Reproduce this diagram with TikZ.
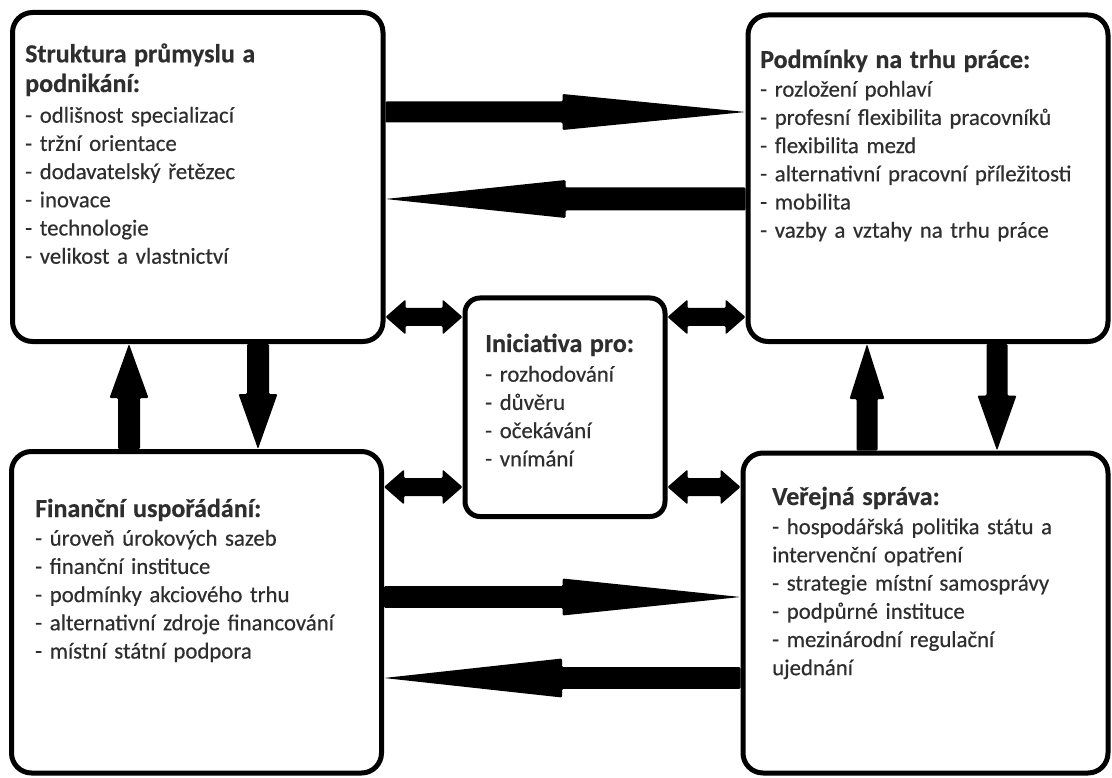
\documentclass[tikz,border=0pt]{standalone}
\usepackage{fontspec}
\setmainfont{Carlito}[FakeBold=0.4]
\usetikzlibrary{calc}
\definecolor{txt}{HTML}{2E2E2E}
% single block arrow: #1 start, #2 tip, #3 half shaft, #4 half head, #5 head length
\newcommand\blockarrow[5]{%
  \coordinate (baB) at ($(#2)!#5!(#1)$);
  \fill[arrowfill] ($(#1)!#3!90:(#2)$) -- ($(baB)!#3!90:(#2)$) -- ($(baB)!#4!90:(#2)$) -- (#2)
    -- ($(baB)!#4!-90:(#2)$) -- ($(baB)!#3!-90:(#2)$) -- ($(#1)!#3!-90:(#2)$) -- cycle;}
% double block arrow
\newcommand\dblarrow[5]{%
  \coordinate (daA) at ($(#1)!#5!(#2)$);
  \coordinate (daB) at ($(#2)!#5!(#1)$);
  \fill[arrowfill] (#1) -- ($(daA)!#4!90:(#2)$) -- ($(daA)!#3!90:(#2)$) -- ($(daB)!#3!90:(#2)$)
    -- ($(daB)!#4!90:(#2)$) -- (#2) -- ($(daB)!#4!-90:(#2)$) -- ($(daB)!#3!-90:(#2)$)
    -- ($(daA)!#3!-90:(#2)$) -- ($(daA)!#4!-90:(#2)$) -- cycle;}
\newcommand\ttl[1]{{\fontsize{26}{30}\selectfont\bfseries #1}}
\begin{document}
\begin{tikzpicture}[x=1pt,y=-1pt,
  box/.style={draw=black, line width=5pt, rounded corners=20pt, fill=white, inner sep=0pt},
  cbox/.style={box, rounded corners=15pt},
  txtblock/.style={anchor=base west, inner sep=0pt, text width=350pt, align=left,
    text=txt, font=\fontsize{22.8}{28.2}\selectfont},
  arrowfill/.style={fill=black, rounded corners=1.2pt}]
\useasboundingbox (0,0) rectangle (1112,778);
% boxes
\node[box, minimum width=370.5pt, minimum height=329pt] (TL) at (197.75,177) {};
\node[box, minimum width=360pt, minimum height=326.5pt] (TR) at (928,178.25) {};
\node[box, minimum width=370pt, minimum height=321.5pt] (BL) at (196.5,612.25) {};
\node[box, minimum width=365pt, minimum height=320pt] (BR) at (925.5,613) {};
\node[cbox, minimum width=200pt, minimum height=218.5pt] (C) at (565,407.25) {};
% guide rows / columns
\path (0,112) coordinate (rowA) (0,199) coordinate (rowB) (0,597) coordinate (rowC)
      (0,678) coordinate (rowD) (0,317) coordinate (rowE) (0,487) coordinate (rowF);
\path (129,0) coordinate (colA) (258,0) coordinate (colB) (867,0) coordinate (colC)
      (997,0) coordinate (colD);
% end points
\coordinate (a1s) at (TL.east |- rowA); \coordinate (a1e) at (TR.west |- rowA);
\coordinate (a2s) at (TR.west |- rowB); \coordinate (a2e) at (TL.east |- rowB);
\coordinate (a3s) at (BL.east |- rowC); \coordinate (a3e) at (BR.west |- rowC);
\coordinate (a4s) at (BR.west |- rowD); \coordinate (a4e) at (BL.east |- rowD);
\coordinate (v1s) at (BL.north -| colA); \coordinate (v1e) at (TL.south -| colA);
\coordinate (v2s) at (TL.south -| colB); \coordinate (v2e) at (BL.north -| colB);
\coordinate (v3s) at (BR.north -| colC); \coordinate (v3e) at (TR.south -| colC);
\coordinate (v4s) at (TR.south -| colD); \coordinate (v4e) at (BR.north -| colD);
\coordinate (d1s) at (TL.east |- rowE); \coordinate (d1e) at (C.west |- rowE);
\coordinate (d2s) at (BL.east |- rowF); \coordinate (d2e) at (C.west |- rowF);
\coordinate (d3s) at (C.east |- rowE); \coordinate (d3e) at (TR.west |- rowE);
\coordinate (d4s) at (C.east |- rowF); \coordinate (d4e) at (BR.west |- rowF);
% arrows
\blockarrow{a1s}{a1e}{10.5pt}{18pt}{183pt}
\blockarrow{a2s}{a2e}{11.5pt}{19pt}{180pt}
\blockarrow{a3s}{a3e}{10.8pt}{18.5pt}{178pt}
\blockarrow{a4s}{a4e}{10.8pt}{19.5pt}{178pt}
\blockarrow{v1s}{v1e}{11pt}{19.5pt}{54pt}
\blockarrow{v2s}{v2e}{11pt}{19.5pt}{55pt}
\blockarrow{v3s}{v3e}{10.5pt}{17.5pt}{55pt}
\blockarrow{v4s}{v4e}{10.5pt}{19.5pt}{55pt}
\dblarrow{d1s}{d1e}{9pt}{17.5pt}{20pt}
\dblarrow{d2s}{d2e}{9pt}{17.5pt}{20pt}
\dblarrow{d3s}{d3e}{9pt}{17.5pt}{20pt}
\dblarrow{d4s}{d4e}{9pt}{17.5pt}{20pt}
% texts
\node[txtblock] (tTL) at (25,62.3) {\ttl{Struktura průmyslu a}\\[1.5pt]\ttl{podnikání:}\\[2.5pt]
- odlišnost specializací\\- tržní orientace\\- dodavatelský řetězec\\- inovace\\- technologie\\- velikost a vlastnictví};
\node[txtblock] (tTR) at (760,68) {\ttl{Podmínky na trhu práce:}\\[0.5pt]
- rozložení pohlaví\\- profesní flexibilita pracovníků\\- flexibilita mezd\\- alternativní pracovní příležitosti\\- mobilita\\- vazby a vztahy na trhu práce};
\node[txtblock] (tC) at (485,352) {\ttl{Iniciativa pro:}\\[1.5pt]
- rozhodování\\- důvěru\\- očekávání\\- vnímání};
\node[txtblock] (tBL) at (35,517) {\ttl{Finanční uspořádání:}\\[0.5pt]
- úroveň úrokových sazeb\\- finanční instituce\\- podmínky akciového trhu\\- alternativní zdroje financování\\- místní státní podpora};
\node[txtblock] (tBR) at (772,505) {\ttl{Veřejná správa:}\\[1pt]
- hospodářská politika státu a\\intervenční opatření\\- strategie místní samosprávy\\- podpůrné instituce\\- mezinárodní regulační\\ujednání};
\end{tikzpicture}
\end{document}
